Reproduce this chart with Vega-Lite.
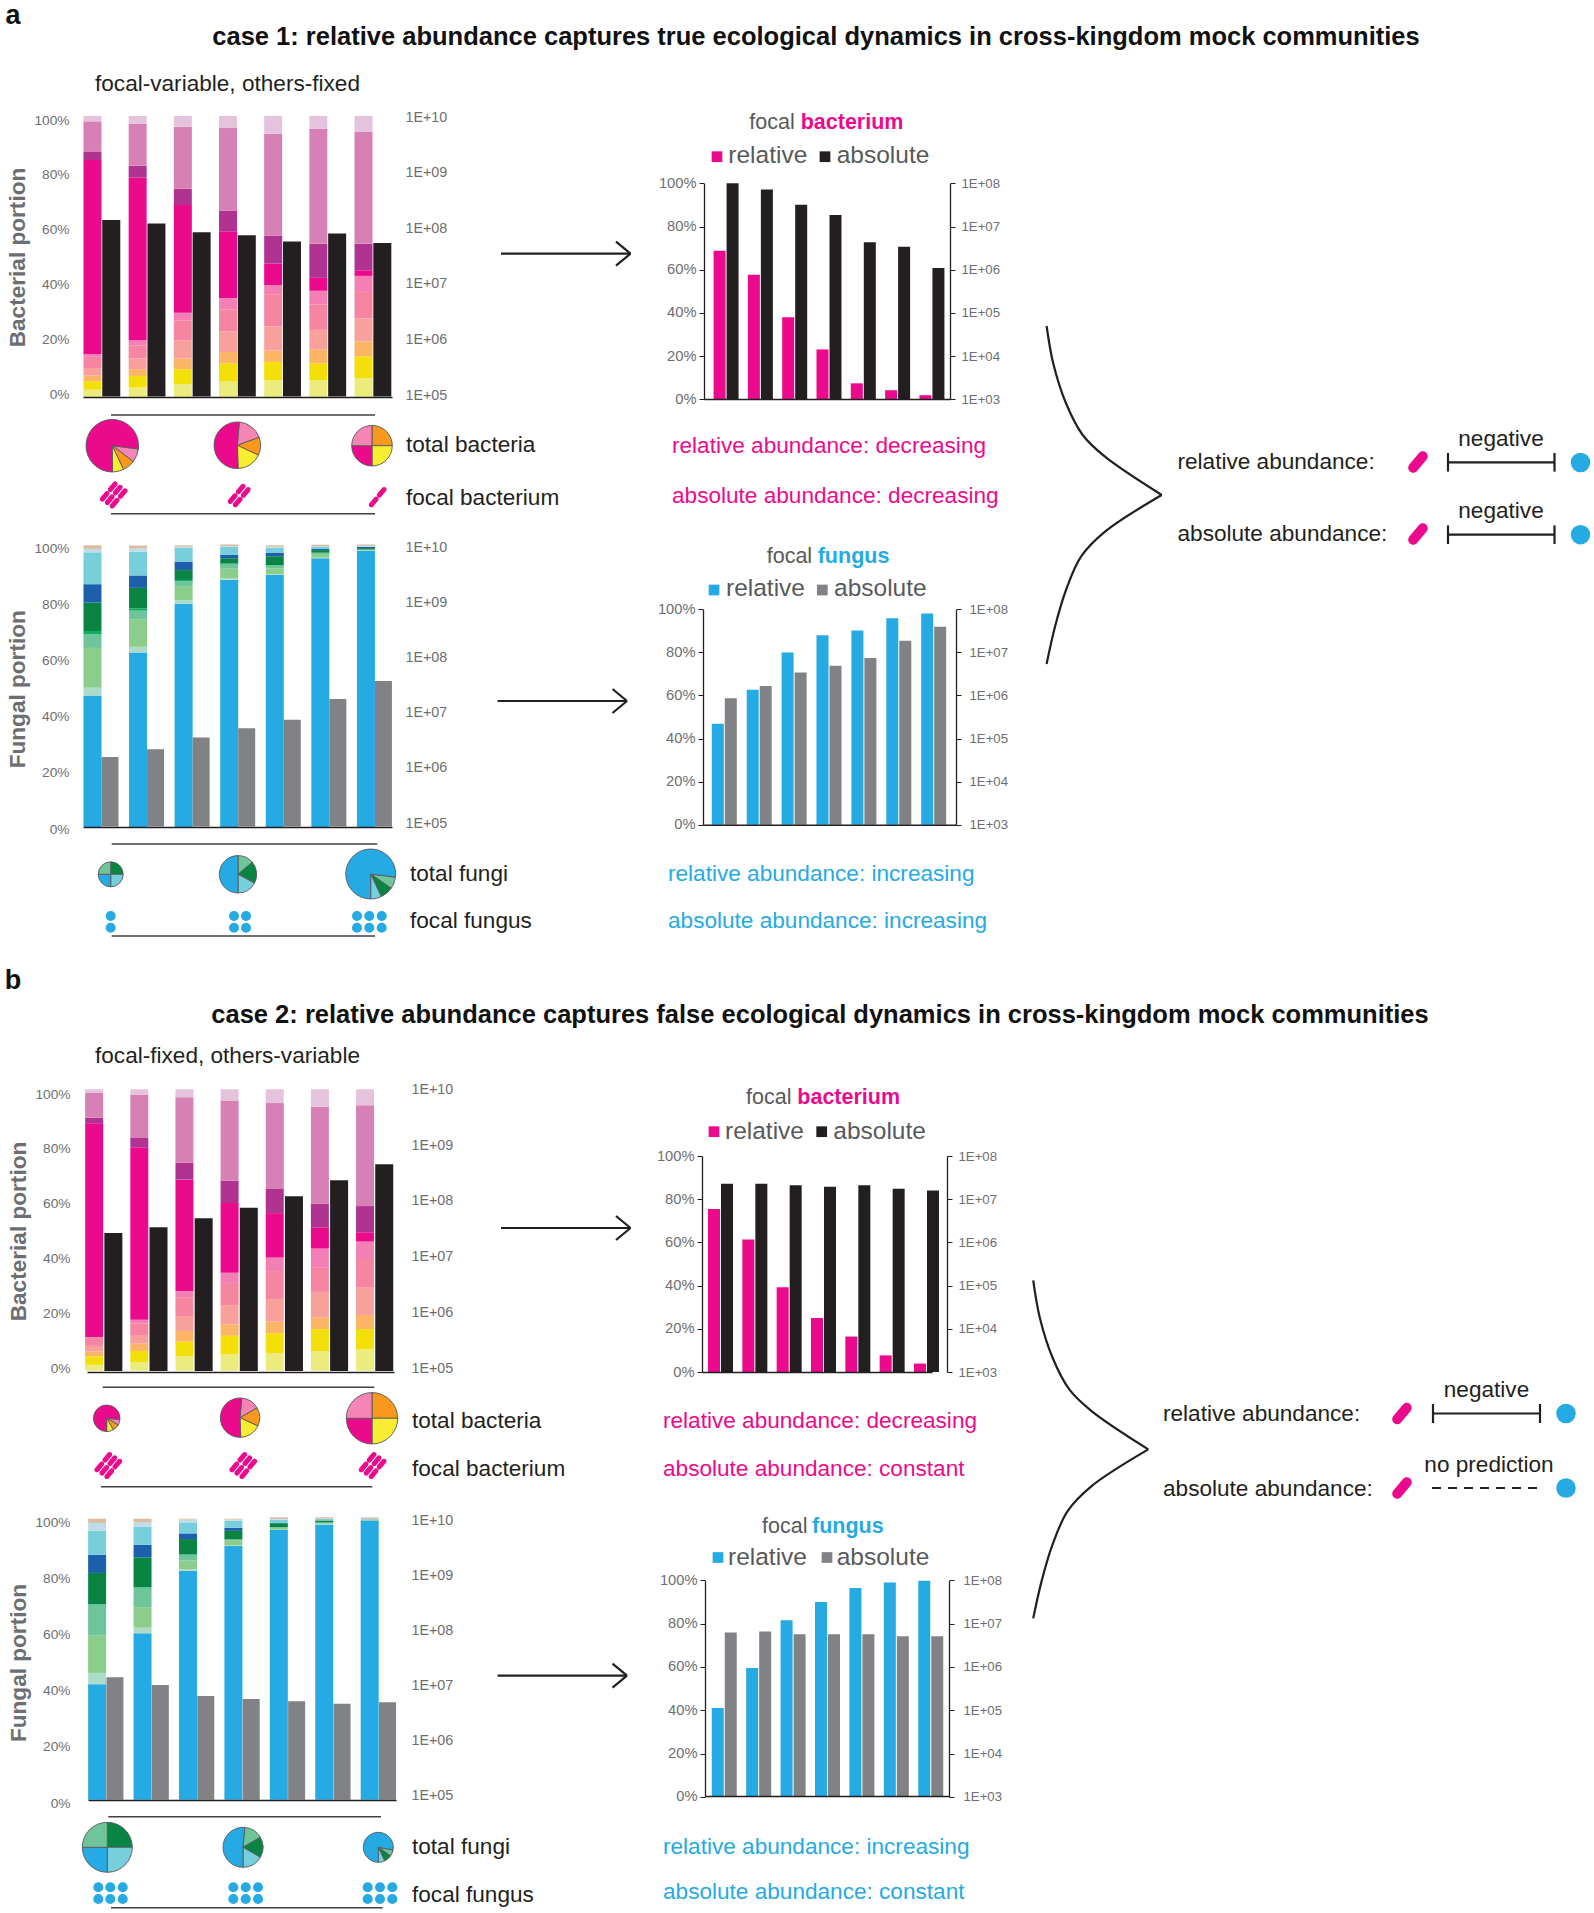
{
"$schema":"https://vega.github.io/schema/vega-lite/v6.json",
"width":1594,"height":1913,"padding":0,"autosize":{"type":"none"},"background":"white",
"config":{"font":"Liberation Sans","view":{"stroke":null},"axis":{"grid":false,"domain":false,"ticks":false,"tickSize":0,"labelFont":"Liberation Sans","titleFont":"Liberation Sans","labelColor":"#6d6e71","labelFontSize":13.7,"labelPadding":2,"title":null,"labelOverlap":false,"labelBound":false,"labelFlush":false}},
"resolve":{"scale":{"x":"independent","y":"independent","color":"independent","theta":"independent","radius":"independent"},"axis":{"x":"independent","y":"independent"},"legend":{"color":"independent"}},
"layer":[
{"data":{"values":[{"v":0},{"v":100}]},"mark":{"type":"rule","opacity":0},"encoding":{"y":{"field":"v","type":"quantitative","scale":{"domain":[0,100],"range":[394,120]},"axis":{"orient":"left","offset":-71,"values":[0,20,40,60,80,100],"labelExpr":"datum.value+'%'","title":"Bacterial portion","titleFontSize":22.6,"titleFontWeight":"bold","titleColor":"#6d6e71","titlePadding":4}}}},
{"data":{"values":[{"v":100000},{"v":10000000000}]},"mark":{"type":"rule","opacity":0},"encoding":{"y":{"field":"v","type":"quantitative","scale":{"type":"log","domain":[100000,10000000000],"range":[395,117]},"axis":{"orient":"right","offset":-1191,"values":[100000,1000000,10000000,100000000,1000000000,10000000000],"labelFontSize":14.3,"labelExpr":"'1E+'+(datum.value<10000000000?'0':'')+round(log(datum.value)/LN10)"}}}},
{"data":{"values":[{"v":0},{"v":100}]},"mark":{"type":"rule","opacity":0},"encoding":{"y":{"field":"v","type":"quantitative","scale":{"domain":[0,100],"range":[829,548.5]},"axis":{"orient":"left","offset":-71,"values":[0,20,40,60,80,100],"labelExpr":"datum.value+'%'","title":"Fungal portion","titleFontSize":22.6,"titleFontWeight":"bold","titleColor":"#6d6e71","titlePadding":4}}}},
{"data":{"values":[{"v":100000},{"v":10000000000}]},"mark":{"type":"rule","opacity":0},"encoding":{"y":{"field":"v","type":"quantitative","scale":{"type":"log","domain":[100000,10000000000],"range":[823,547.5]},"axis":{"orient":"right","offset":-1191,"values":[100000,1000000,10000000,100000000,1000000000,10000000000],"labelFontSize":14.3,"labelExpr":"'1E+'+(datum.value<10000000000?'0':'')+round(log(datum.value)/LN10)"}}}},
{"data":{"values":[{"v":0},{"v":100}]},"mark":{"type":"rule","opacity":0},"encoding":{"y":{"field":"v","type":"quantitative","scale":{"domain":[0,100],"range":[1368,1094]},"axis":{"orient":"left","offset":-72,"values":[0,20,40,60,80,100],"labelExpr":"datum.value+'%'","title":"Bacterial portion","titleFontSize":22.6,"titleFontWeight":"bold","titleColor":"#6d6e71","titlePadding":4}}}},
{"data":{"values":[{"v":100000},{"v":10000000000}]},"mark":{"type":"rule","opacity":0},"encoding":{"y":{"field":"v","type":"quantitative","scale":{"type":"log","domain":[100000,10000000000],"range":[1368,1089.5]},"axis":{"orient":"right","offset":-1185,"values":[100000,1000000,10000000,100000000,1000000000,10000000000],"labelFontSize":14.3,"labelExpr":"'1E+'+(datum.value<10000000000?'0':'')+round(log(datum.value)/LN10)"}}}},
{"data":{"values":[{"v":0},{"v":100}]},"mark":{"type":"rule","opacity":0},"encoding":{"y":{"field":"v","type":"quantitative","scale":{"domain":[0,100],"range":[1803,1522]},"axis":{"orient":"left","offset":-72,"values":[0,20,40,60,80,100],"labelExpr":"datum.value+'%'","title":"Fungal portion","titleFontSize":22.6,"titleFontWeight":"bold","titleColor":"#6d6e71","titlePadding":4}}}},
{"data":{"values":[{"v":100000},{"v":10000000000}]},"mark":{"type":"rule","opacity":0},"encoding":{"y":{"field":"v","type":"quantitative","scale":{"type":"log","domain":[100000,10000000000],"range":[1795.5,1520]},"axis":{"orient":"right","offset":-1185,"values":[100000,1000000,10000000,100000000,1000000000,10000000000],"labelFontSize":14.3,"labelExpr":"'1E+'+(datum.value<10000000000?'0':'')+round(log(datum.value)/LN10)"}}}},

{"data":{"values":[
{"sample":"S1","B01":2.6,"B02":3.0,"B03":2.0,"B04":2.7,"B05":4.0,"B06":0.9,"B07":69.1,"B08":2.9,"B09":10.9,"B10":1.9},
{"sample":"S2","B01":3.4,"B02":4.1,"B03":2.4,"B04":3.8,"B05":4.7,"B06":1.8,"B07":57.9,"B08":4.2,"B09":15.0,"B10":2.7},
{"sample":"S3","B01":4.6,"B02":5.3,"B03":3.8,"B04":6.5,"B05":7.1,"B06":2.7,"B07":38.3,"B08":5.8,"B09":22.1,"B10":3.8},
{"sample":"S4","B01":5.5,"B02":6.5,"B03":4.0,"B04":7.4,"B05":7.8,"B06":4.0,"B07":23.8,"B08":7.3,"B09":29.4,"B10":4.3},
{"sample":"S5","B01":5.9,"B02":6.6,"B03":4.0,"B04":8.6,"B05":11.5,"B06":3.2,"B07":7.7,"B08":9.9,"B09":36.3,"B10":6.3},
{"sample":"S6","B01":5.9,"B02":6.1,"B03":4.9,"B04":7.0,"B05":9.0,"B06":4.9,"B07":4.6,"B08":12.1,"B09":40.9,"B10":4.6},
{"sample":"S7","B01":6.7,"B02":7.8,"B03":5.3,"B04":8.2,"B05":9.4,"B06":5.7,"B07":2.0,"B08":9.4,"B09":40.0,"B10":5.5}]},
"transform":[{"fold":["B01","B02","B03","B04","B05","B06","B07","B08","B09","B10"],"as":["taxon","share"]}],
"mark":{"type":"bar","width":18,"xOffset":-9.5},
"encoding":{"x":{"field":"sample","type":"nominal","scale":{"range":[83,392],"paddingInner":0.16,"paddingOuter":0},"axis":{"orient":"bottom","offset":-1516,"labels":false,"domain":true,"domainColor":"#231f20","domainWidth":1.5,"zindex":1}},
"y":{"field":"share","type":"quantitative","stack":"zero","scale":{"domain":[0,100],"range":[397,116]},"axis":null},
"order":{"field":"taxon"},
"color":{"field":"taxon","type":"nominal","legend":null,"scale":{"domain":["B01","B02","B03","B04","B05","B06","B07","B08","B09","B10"],"range":["#ecec7e","#f3e00b","#fbb564","#f7a09c","#f585a0","#f47fb5","#ec0a8c","#b03392","#d680b5","#e5c3dc"]}}}},
{"data":{"values":[{"sample":"S1","cells":144000000},{"sample":"S2","cells":125000000},{"sample":"S3","cells":86500000},{"sample":"S4","cells":77000000},{"sample":"S5","cells":59000000},{"sample":"S6","cells":82000000},{"sample":"S7","cells":56000000}]},
"mark":{"type":"bar","width":18,"xOffset":9.3,"color":"#231f20"},
"encoding":{"x":{"field":"sample","type":"nominal","scale":{"range":[83,392],"paddingInner":0.16,"paddingOuter":0},"axis":null},
"y":{"field":"cells","type":"quantitative","scale":{"type":"log","domain":[100000,10000000000],"range":[396.5,117]},"axis":null},"y2":{"datum":100000}}},

{"data":{"values":[
{"sample":"S1","F01":46.6,"F02":2.8,"F03":14.1,"F04":4.8,"F05":1.2,"F06":10.1,"F07":6.5,"F08":11.3,"F09":1.2,"F10":1.3},
{"sample":"S2","F01":61.9,"F02":2.0,"F03":9.6,"F04":3.2,"F05":0.8,"F06":7.3,"F07":4.4,"F08":8.4,"F09":1.2,"F10":1.0},
{"sample":"S3","F01":79.2,"F02":1.2,"F03":4.8,"F04":2.0,"F05":0.4,"F06":3.5,"F07":3.0,"F08":5.0,"F09":0.3,"F10":0.5},
{"sample":"S4","F01":87.7,"F02":0.4,"F03":3.5,"F04":1.5,"F05":0.4,"F06":1.8,"F07":1.2,"F08":2.9,"F09":0.2,"F10":0.6},
{"sample":"S5","F01":89.4,"F02":0.2,"F03":2.1,"F04":1.0,"F05":0.2,"F06":3.1,"F07":1.3,"F08":1.8,"F09":0.3,"F10":0.5},
{"sample":"S6","F01":95.3,"F02":0.2,"F03":1.3,"F04":0.2,"F05":0.3,"F06":0.9,"F07":0.4,"F08":0.7,"F09":0.3,"F10":0.5},
{"sample":"S7","F01":97.9,"F02":0.1,"F03":0.2,"F04":0.1,"F05":0.1,"F06":0.5,"F07":0.4,"F08":0.2,"F09":0.2,"F10":0.5}]},
"transform":[{"fold":["F01","F02","F03","F04","F05","F06","F07","F08","F09","F10"],"as":["taxon","share"]}],
"mark":{"type":"bar","width":18,"xOffset":-8.3},
"encoding":{"x":{"field":"sample","type":"nominal","scale":{"range":[83,392],"paddingInner":0.22,"paddingOuter":0},"axis":{"orient":"bottom","offset":-1086,"labels":false,"domain":true,"domainColor":"#231f20","domainWidth":1.5,"zindex":1}},
"y":{"field":"share","type":"quantitative","stack":"zero","scale":{"domain":[0,100],"range":[827,545]},"axis":null},
"order":{"field":"taxon"},
"color":{"field":"taxon","type":"nominal","legend":null,"scale":{"domain":["F01","F02","F03","F04","F05","F06","F07","F08","F09","F10"],"range":["#25aae3","#acdcc8","#8bcd8b","#6ec59a","#0db060","#0a8443","#1b5fad","#77cfdc","#c0dce6","#dcbba1"]}}}},
{"data":{"values":[{"sample":"S1","cells":1750000},{"sample":"S2","cells":2400000},{"sample":"S3","cells":3900000},{"sample":"S4","cells":5700000},{"sample":"S5","cells":8100000},{"sample":"S6","cells":19000000},{"sample":"S7","cells":40000000}]},
"mark":{"type":"bar","width":17,"xOffset":9.2,"color":"#808285"},
"encoding":{"x":{"field":"sample","type":"nominal","scale":{"range":[83,392],"paddingInner":0.22,"paddingOuter":0},"axis":null},
"y":{"field":"cells","type":"quantitative","scale":{"type":"log","domain":[100000,10000000000],"range":[826.5,547]},"axis":null},"y2":{"datum":100000}}},

{"data":{"values":[
{"sample":"S1","B01":2.1,"B02":3.0,"B03":1.7,"B04":2.0,"B05":2.9,"B06":0.3,"B07":75.9,"B08":2.0,"B09":8.8,"B10":1.3},
{"sample":"S2","B01":3.1,"B02":3.9,"B03":2.6,"B04":2.8,"B05":4.4,"B06":1.3,"B07":61.3,"B08":3.5,"B09":15.1,"B10":2.0},
{"sample":"S3","B01":5.1,"B02":5.2,"B03":3.8,"B04":5.3,"B05":6.7,"B06":2.2,"B07":39.6,"B08":6.0,"B09":23.3,"B10":2.8},
{"sample":"S4","B01":5.9,"B02":6.5,"B03":4.1,"B04":6.8,"B05":7.9,"B06":3.6,"B07":24.8,"B08":7.9,"B09":28.5,"B10":4.0},
{"sample":"S5","B01":6.3,"B02":7.0,"B03":4.1,"B04":8.1,"B05":9.9,"B06":4.8,"B07":15.8,"B08":8.6,"B09":30.5,"B10":4.9},
{"sample":"S6","B01":7.0,"B02":7.8,"B03":4.2,"B04":9.0,"B05":8.8,"B06":6.6,"B07":7.4,"B08":8.6,"B09":34.4,"B10":6.2},
{"sample":"S7","B01":7.6,"B02":7.2,"B03":5.0,"B04":9.7,"B05":10.2,"B06":6.2,"B07":3.3,"B08":9.3,"B09":35.8,"B10":5.7}]},
"transform":[{"fold":["B01","B02","B03","B04","B05","B06","B07","B08","B09","B10"],"as":["taxon","share"]}],
"mark":{"type":"bar","width":18,"xOffset":-10.9},
"encoding":{"x":{"field":"sample","type":"nominal","scale":{"range":[87,394],"paddingInner":0.2,"paddingOuter":0},"axis":{"orient":"bottom","offset":-541,"labels":false,"domain":true,"domainColor":"#231f20","domainWidth":1.5,"zindex":1}},
"y":{"field":"share","type":"quantitative","stack":"zero","scale":{"domain":[0,100],"range":[1370.7,1089.3]},"axis":null},
"order":{"field":"taxon"},
"color":{"field":"taxon","type":"nominal","legend":null,"scale":{"domain":["B01","B02","B03","B04","B05","B06","B07","B08","B09","B10"],"range":["#ecec7e","#f3e00b","#fbb564","#f7a09c","#f585a0","#f47fb5","#ec0a8c","#b03392","#d680b5","#e5c3dc"]}}}},
{"data":{"values":[{"sample":"S1","cells":28600000},{"sample":"S2","cells":36000000},{"sample":"S3","cells":52000000},{"sample":"S4","cells":80500000},{"sample":"S5","cells":128000000},{"sample":"S6","cells":247000000},{"sample":"S7","cells":476000000}]},
"mark":{"type":"bar","width":18,"xOffset":8.3,"color":"#231f20"},
"encoding":{"x":{"field":"sample","type":"nominal","scale":{"range":[87,394],"paddingInner":0.2,"paddingOuter":0},"axis":null},
"y":{"field":"cells","type":"quantitative","scale":{"type":"log","domain":[100000,10000000000],"range":[1371,1090]},"axis":null},"y2":{"datum":100000}}},

{"data":{"values":[
{"sample":"S1","F01":40.9,"F02":4.0,"F03":13.2,"F04":11.0,"F05":0.2,"F06":11.0,"F07":6.4,"F08":8.5,"F09":2.8,"F10":1.5},
{"sample":"S2","F01":58.9,"F02":2.0,"F03":7.3,"F04":6.9,"F05":0.2,"F06":10.5,"F07":4.5,"F08":6.4,"F09":1.6,"F10":1.2},
{"sample":"S3","F01":81.1,"F02":0.4,"F03":3.2,"F04":2.0,"F05":0.2,"F06":5.4,"F07":2.0,"F08":3.9,"F09":1.0,"F10":0.3},
{"sample":"S4","F01":89.8,"F02":0.2,"F03":1.9,"F04":0.2,"F05":0.1,"F06":3.0,"F07":1.1,"F08":2.5,"F09":0.4,"F10":0.3},
{"sample":"S5","F01":95.5,"F02":0.1,"F03":0.7,"F04":0.1,"F05":0.1,"F06":1.4,"F07":0.1,"F08":1.2,"F09":0.2,"F10":0.6},
{"sample":"S6","F01":97.4,"F02":0.1,"F03":0.4,"F04":0.2,"F05":0.1,"F06":0.6,"F07":0.1,"F08":0.5,"F09":0.1,"F10":0.5},
{"sample":"S7","F01":98.8,"F02":0,"F03":0,"F04":0.4,"F05":0,"F06":0,"F07":0,"F08":0.2,"F09":0,"F10":0.5}]},
"transform":[{"fold":["F01","F02","F03","F04","F05","F06","F07","F08","F09","F10"],"as":["taxon","share"]}],
"mark":{"type":"bar","width":18,"xOffset":-8.6},
"encoding":{"x":{"field":"sample","type":"nominal","scale":{"range":[88,396],"paddingInner":0.22,"paddingOuter":0},"axis":{"orient":"bottom","offset":-113,"labels":false,"domain":true,"domainColor":"#231f20","domainWidth":1.5,"zindex":1}},
"y":{"field":"share","type":"quantitative","stack":"zero","scale":{"domain":[0,100],"range":[1799.7,1517.3]},"axis":null},
"order":{"field":"taxon"},
"color":{"field":"taxon","type":"nominal","legend":null,"scale":{"domain":["F01","F02","F03","F04","F05","F06","F07","F08","F09","F10"],"range":["#25aae3","#acdcc8","#8bcd8b","#6ec59a","#0db060","#0a8443","#1b5fad","#77cfdc","#c0dce6","#dcbba1"]}}}},
{"data":{"values":[{"sample":"S1","cells":15200000},{"sample":"S2","cells":11100000},{"sample":"S3","cells":7050000},{"sample":"S4","cells":6200000},{"sample":"S5","cells":5700000},{"sample":"S6","cells":5100000},{"sample":"S7","cells":5450000}]},
"mark":{"type":"bar","width":17,"xOffset":9.2,"color":"#808285"},
"encoding":{"x":{"field":"sample","type":"nominal","scale":{"range":[88,396],"paddingInner":0.22,"paddingOuter":0},"axis":null},
"y":{"field":"cells","type":"quantitative","scale":{"type":"log","domain":[100000,10000000000],"range":[1799.7,1519]},"axis":null},"y2":{"datum":100000}}},

{"data":{"values":[{"sample":"S1","pct":68.8},{"sample":"S2","pct":57.7},{"sample":"S3","pct":38},{"sample":"S4","pct":23.1},{"sample":"S5","pct":7.4},{"sample":"S6","pct":4.2},{"sample":"S7","pct":1.9}]},
"mark":{"type":"bar","width":12,"xOffset":-4.5,"color":"#ec0a8c"},
"encoding":{"x":{"field":"sample","type":"nominal","scale":{"range":[704,950],"paddingInner":0,"paddingOuter":0.085},"axis":{"orient":"bottom","offset":-1514,"labels":false,"domain":true,"domainColor":"#231f20","domainWidth":1.5,"zindex":1}},
"y":{"field":"pct","type":"quantitative","scale":{"domain":[0,100],"range":[399.3,183.3]},"axis":{"orient":"left","offset":-704,"values":[0,20,40,60,80,100],"labelExpr":"datum.value+'%'","labelFontSize":14.7,"domain":true,"ticks":true,"tickSize":5,"domainColor":"#231f20","tickColor":"#231f20","domainWidth":1.3,"labelPadding":3}}}},
{"data":{"values":[{"sample":"S1","cells":100000000},{"sample":"S2","cells":72000000},{"sample":"S3","cells":32000000},{"sample":"S4","cells":18500000},{"sample":"S5","cells":4300000},{"sample":"S6","cells":3400000},{"sample":"S7","cells":1100000}]},
"mark":{"type":"bar","width":12,"xOffset":8.5,"color":"#231f20"},
"encoding":{"x":{"field":"sample","type":"nominal","scale":{"range":[704,950],"paddingInner":0,"paddingOuter":0.085},"axis":null},
"y":{"field":"cells","type":"quantitative","scale":{"type":"log","domain":[1000,100000000],"range":[399.3,183.3]},"axis":{"orient":"right","offset":-644,"values":[1000,10000,100000,1000000,10000000,100000000],"labelExpr":"'1E+0'+round(log(datum.value)/LN10)","labelFontSize":13.2,"domain":true,"ticks":true,"tickSize":5,"domainColor":"#231f20","tickColor":"#231f20","domainWidth":1.3,"labelPadding":6}},"y2":{"datum":1000}}},

{"data":{"values":[{"sample":"S1","pct":46.9},{"sample":"S2","pct":62.7},{"sample":"S3","pct":80},{"sample":"S4","pct":87.9},{"sample":"S5","pct":90.2},{"sample":"S6","pct":95.8},{"sample":"S7","pct":98.1}]},
"mark":{"type":"bar","width":12,"xOffset":-7,"color":"#25aae3"},
"encoding":{"x":{"field":"sample","type":"nominal","scale":{"range":[703,956],"paddingInner":0,"paddingOuter":0.125},"axis":{"orient":"bottom","offset":-1088.3,"labels":false,"domain":true,"domainColor":"#231f20","domainWidth":1.5,"zindex":1}},
"y":{"field":"pct","type":"quantitative","scale":{"domain":[0,100],"range":[824.7,609.3]},"axis":{"orient":"left","offset":-703,"values":[0,20,40,60,80,100],"labelExpr":"datum.value+'%'","labelFontSize":14.7,"domain":true,"ticks":true,"tickSize":5,"domainColor":"#231f20","tickColor":"#231f20","domainWidth":1.3,"labelPadding":3}}}},
{"data":{"values":[{"sample":"S1","cells":860000},{"sample":"S2","cells":1660000},{"sample":"S3","cells":3400000},{"sample":"S4","cells":4900000},{"sample":"S5","cells":7400000},{"sample":"S6","cells":18700000},{"sample":"S7","cells":39600000}]},
"mark":{"type":"bar","width":12,"xOffset":6,"color":"#808285"},
"encoding":{"x":{"field":"sample","type":"nominal","scale":{"range":[703,956],"paddingInner":0,"paddingOuter":0.125},"axis":null},
"y":{"field":"cells","type":"quantitative","scale":{"type":"log","domain":[1000,100000000],"range":[824.7,609.3]},"axis":{"orient":"right","offset":-638,"values":[1000,10000,100000,1000000,10000000,100000000],"labelExpr":"'1E+0'+round(log(datum.value)/LN10)","labelFontSize":13.2,"domain":true,"ticks":true,"tickSize":5,"domainColor":"#231f20","tickColor":"#231f20","domainWidth":1.3,"labelPadding":8}},"y2":{"datum":1000}}},

{"data":{"values":[{"sample":"S1","pct":75.5},{"sample":"S2","pct":61.3},{"sample":"S3","pct":39.2},{"sample":"S4","pct":25},{"sample":"S5","pct":16.4},{"sample":"S6","pct":7.7},{"sample":"S7","pct":3.9}]},
"mark":{"type":"bar","width":12,"xOffset":0,"color":"#ec0a8c"},
"encoding":{"x":{"field":"sample","type":"nominal","scale":{"range":[702,932],"paddingInner":0.3,"paddingOuter":0},"axis":{"orient":"bottom","offset":-541,"labels":false,"domain":true,"domainColor":"#231f20","domainWidth":1.5,"zindex":1}},
"y":{"field":"pct","type":"quantitative","scale":{"domain":[0,100],"range":[1372,1156]},"axis":{"orient":"left","offset":-702,"values":[0,20,40,60,80,100],"labelExpr":"datum.value+'%'","labelFontSize":14.7,"domain":true,"ticks":true,"tickSize":5,"domainColor":"#231f20","tickColor":"#231f20","domainWidth":1.3,"labelPadding":3}}}},
{"data":{"values":[{"sample":"S1","cells":22900000},{"sample":"S2","cells":22900000},{"sample":"S3","cells":20900000},{"sample":"S4","cells":19500000},{"sample":"S5","cells":20900000},{"sample":"S6","cells":17500000},{"sample":"S7","cells":16000000}]},
"mark":{"type":"bar","width":12,"xOffset":13,"color":"#231f20"},
"encoding":{"x":{"field":"sample","type":"nominal","scale":{"range":[702,932],"paddingInner":0.3,"paddingOuter":0},"axis":null},
"y":{"field":"cells","type":"quantitative","scale":{"type":"log","domain":[1000,100000000],"range":[1372,1156]},"axis":{"orient":"right","offset":-647,"values":[1000,10000,100000,1000000,10000000,100000000],"labelExpr":"'1E+0'+round(log(datum.value)/LN10)","labelFontSize":13.2,"domain":true,"ticks":true,"tickSize":5,"domainColor":"#231f20","tickColor":"#231f20","domainWidth":1.3,"labelPadding":6}},"y2":{"datum":1000}}},

{"data":{"values":[{"sample":"S1","pct":41},{"sample":"S2","pct":59.5},{"sample":"S3","pct":81.5},{"sample":"S4","pct":90},{"sample":"S5","pct":96.5},{"sample":"S6","pct":99},{"sample":"S7","pct":99.8}]},
"mark":{"type":"bar","width":12,"xOffset":-6,"color":"#25aae3"},
"encoding":{"x":{"field":"sample","type":"nominal","scale":{"range":[705,949],"paddingInner":0,"paddingOuter":0.045},"axis":{"orient":"bottom","offset":-117,"labels":false,"domain":true,"domainColor":"#231f20","domainWidth":1.5,"zindex":1}},
"y":{"field":"pct","type":"quantitative","scale":{"domain":[0,100],"range":[1796.8,1580.3]},"axis":{"orient":"left","offset":-705,"values":[0,20,40,60,80,100],"labelExpr":"datum.value+'%'","labelFontSize":14.7,"domain":true,"ticks":true,"tickSize":5,"domainColor":"#231f20","tickColor":"#231f20","domainWidth":1.3,"labelPadding":3}}}},
{"data":{"values":[{"sample":"S1","cells":6200000},{"sample":"S2","cells":6600000},{"sample":"S3","cells":5700000},{"sample":"S4","cells":5700000},{"sample":"S5","cells":5700000},{"sample":"S6","cells":5100000},{"sample":"S7","cells":5100000}]},
"mark":{"type":"bar","width":12,"xOffset":7,"color":"#808285"},
"encoding":{"x":{"field":"sample","type":"nominal","scale":{"range":[705,949],"paddingInner":0,"paddingOuter":0.045},"axis":null},
"y":{"field":"cells","type":"quantitative","scale":{"type":"log","domain":[1000,100000000],"range":[1796.8,1580.3]},"axis":{"orient":"right","offset":-645,"values":[1000,10000,100000,1000000,10000000,100000000],"labelExpr":"'1E+0'+round(log(datum.value)/LN10)","labelFontSize":13.2,"domain":true,"ticks":true,"tickSize":5,"domainColor":"#231f20","tickColor":"#231f20","domainWidth":1.3,"labelPadding":9}},"y2":{"datum":1000}}},

{"data":{"values":[
{"pie":"a1","u":112.3,"v":445.7,"r":26.3,"a0":97,"a1":127,"taxon":"rose"},{"pie":"a1","u":112.3,"v":445.7,"r":26.3,"a0":127,"a1":155,"taxon":"orange"},{"pie":"a1","u":112.3,"v":445.7,"r":26.3,"a0":155,"a1":180,"taxon":"yellow"},{"pie":"a1","u":112.3,"v":445.7,"r":26.3,"a0":180,"a1":457,"taxon":"pink"},
{"pie":"a2","u":237.3,"v":445.3,"r":23.3,"a0":5,"a1":70,"taxon":"rose"},{"pie":"a2","u":237.3,"v":445.3,"r":23.3,"a0":70,"a1":115,"taxon":"orange"},{"pie":"a2","u":237.3,"v":445.3,"r":23.3,"a0":115,"a1":178,"taxon":"yellow"},{"pie":"a2","u":237.3,"v":445.3,"r":23.3,"a0":178,"a1":365,"taxon":"pink"},
{"pie":"a3","u":372,"v":445.7,"r":20.3,"a0":0,"a1":90,"taxon":"orange"},{"pie":"a3","u":372,"v":445.7,"r":20.3,"a0":90,"a1":180,"taxon":"yellow"},{"pie":"a3","u":372,"v":445.7,"r":20.3,"a0":180,"a1":270,"taxon":"pink"},{"pie":"a3","u":372,"v":445.7,"r":20.3,"a0":270,"a1":360,"taxon":"rose"},
{"pie":"a4","u":110.7,"v":874.3,"r":12.5,"a0":0,"a1":90,"taxon":"green"},{"pie":"a4","u":110.7,"v":874.3,"r":12.5,"a0":90,"a1":180,"taxon":"cyan"},{"pie":"a4","u":110.7,"v":874.3,"r":12.5,"a0":180,"a1":270,"taxon":"blue"},{"pie":"a4","u":110.7,"v":874.3,"r":12.5,"a0":270,"a1":360,"taxon":"teal"},
{"pie":"a5","u":238,"v":874.3,"r":18.7,"a0":0,"a1":50,"taxon":"teal"},{"pie":"a5","u":238,"v":874.3,"r":18.7,"a0":50,"a1":118,"taxon":"green"},{"pie":"a5","u":238,"v":874.3,"r":18.7,"a0":118,"a1":180,"taxon":"cyan"},{"pie":"a5","u":238,"v":874.3,"r":18.7,"a0":180,"a1":360,"taxon":"blue"},
{"pie":"a6","u":370.7,"v":874,"r":25,"a0":97,"a1":125,"taxon":"teal"},{"pie":"a6","u":370.7,"v":874,"r":25,"a0":125,"a1":155,"taxon":"green"},{"pie":"a6","u":370.7,"v":874,"r":25,"a0":155,"a1":180,"taxon":"cyan"},{"pie":"a6","u":370.7,"v":874,"r":25,"a0":180,"a1":457,"taxon":"blue"},
{"pie":"b1","u":106.7,"v":1418.3,"r":13.3,"a0":95,"a1":120,"taxon":"rose"},{"pie":"b1","u":106.7,"v":1418.3,"r":13.3,"a0":120,"a1":150,"taxon":"orange"},{"pie":"b1","u":106.7,"v":1418.3,"r":13.3,"a0":150,"a1":180,"taxon":"yellow"},{"pie":"b1","u":106.7,"v":1418.3,"r":13.3,"a0":180,"a1":455,"taxon":"pink"},
{"pie":"b2","u":240,"v":1417.7,"r":19.7,"a0":5,"a1":60,"taxon":"rose"},{"pie":"b2","u":240,"v":1417.7,"r":19.7,"a0":60,"a1":115,"taxon":"orange"},{"pie":"b2","u":240,"v":1417.7,"r":19.7,"a0":115,"a1":178,"taxon":"yellow"},{"pie":"b2","u":240,"v":1417.7,"r":19.7,"a0":178,"a1":365,"taxon":"pink"},
{"pie":"b3","u":372,"v":1418.3,"r":25.7,"a0":0,"a1":90,"taxon":"orange"},{"pie":"b3","u":372,"v":1418.3,"r":25.7,"a0":90,"a1":180,"taxon":"yellow"},{"pie":"b3","u":372,"v":1418.3,"r":25.7,"a0":180,"a1":270,"taxon":"pink"},{"pie":"b3","u":372,"v":1418.3,"r":25.7,"a0":270,"a1":360,"taxon":"rose"},
{"pie":"b4","u":107.3,"v":1847.3,"r":25,"a0":0,"a1":90,"taxon":"green"},{"pie":"b4","u":107.3,"v":1847.3,"r":25,"a0":90,"a1":180,"taxon":"cyan"},{"pie":"b4","u":107.3,"v":1847.3,"r":25,"a0":180,"a1":270,"taxon":"blue"},{"pie":"b4","u":107.3,"v":1847.3,"r":25,"a0":270,"a1":360,"taxon":"teal"},
{"pie":"b5","u":243,"v":1847.3,"r":20,"a0":5,"a1":60,"taxon":"teal"},{"pie":"b5","u":243,"v":1847.3,"r":20,"a0":60,"a1":120,"taxon":"green"},{"pie":"b5","u":243,"v":1847.3,"r":20,"a0":120,"a1":180,"taxon":"cyan"},{"pie":"b5","u":243,"v":1847.3,"r":20,"a0":180,"a1":365,"taxon":"blue"},
{"pie":"b6","u":378.3,"v":1847.3,"r":15,"a0":100,"a1":125,"taxon":"teal"},{"pie":"b6","u":378.3,"v":1847.3,"r":15,"a0":125,"a1":155,"taxon":"green"},{"pie":"b6","u":378.3,"v":1847.3,"r":15,"a0":155,"a1":180,"taxon":"cyan"},{"pie":"b6","u":378.3,"v":1847.3,"r":15,"a0":180,"a1":460,"taxon":"blue"}]},
"mark":{"type":"arc","stroke":"#58595b","strokeWidth":0.9},
"encoding":{"x":{"field":"u","type":"quantitative","scale":{"domain":[0,1594],"range":[0,1594]},"axis":null},"y":{"field":"v","type":"quantitative","scale":{"domain":[0,1913],"range":[0,1913]},"axis":null},
"theta":{"field":"a0","type":"quantitative","stack":null,"scale":{"domain":[0,360],"range":[0,6.28319]}},"theta2":{"field":"a1"},
"radius":{"field":"r","type":"quantitative","scale":{"type":"linear","domain":[0,30],"range":[0,30]}},
"color":{"field":"taxon","type":"nominal","legend":null,"scale":{"domain":["pink","rose","orange","yellow","blue","teal","green","cyan"],"range":["#ec0a8c","#f585b5","#f8981d","#f9ed32","#25aae3","#6ec59a","#0a8443","#77cfdc"]}}}},

{"data":{"values":[
{"u":112.7,"v":486.7},{"u":117.7,"v":490.1},{"u":122.7,"v":493.5},{"u":104.7,"v":496.3},{"u":109.7,"v":499.7},{"u":114.7,"v":503.1},
{"u":240.7,"v":489},{"u":245.7,"v":492.4},{"u":232.7,"v":498.6},{"u":237.7,"v":502},{"u":381.7,"v":492.3},{"u":373.7,"v":501.9},
{"u":107.3,"v":1457.3},{"u":112.3,"v":1460.7},{"u":117.3,"v":1464.1},{"u":99.3,"v":1466.9},{"u":104.3,"v":1470.3},{"u":109.3,"v":1473.7},
{"u":242.3,"v":1457.3},{"u":247.3,"v":1460.7},{"u":252.3,"v":1464.1},{"u":234.3,"v":1466.9},{"u":239.3,"v":1470.3},{"u":244.3,"v":1473.7},
{"u":371.6,"v":1457.3},{"u":376.6,"v":1460.7},{"u":381.6,"v":1464.1},{"u":363.6,"v":1466.9},{"u":368.6,"v":1470.3},{"u":373.6,"v":1473.7}]},
"mark":{"type":"point","shape":"M-0.6,-0.4L0.6,-0.4A0.4,0.4,0,0,1,0.6,0.4L-0.6,0.4A0.4,0.4,0,0,1,-0.6,-0.4Z","filled":true,"opacity":1,"color":"#ec0a8c","size":156,"angle":310},
"encoding":{"x":{"field":"u","type":"quantitative","scale":{"domain":[0,1594],"range":[0,1594]},"axis":null},"y":{"field":"v","type":"quantitative","scale":{"domain":[0,1913],"range":[0,1913]},"axis":null}}},
{"data":{"values":[{"u":1418,"v":462},{"u":1418,"v":534},{"u":1402,"v":1413.5},{"u":1402,"v":1488}]},
"mark":{"type":"point","shape":"M-0.6,-0.4L0.6,-0.4A0.4,0.4,0,0,1,0.6,0.4L-0.6,0.4A0.4,0.4,0,0,1,-0.6,-0.4Z","filled":true,"opacity":1,"color":"#ec0a8c","size":625,"angle":310},
"encoding":{"x":{"field":"u","type":"quantitative","scale":{"domain":[0,1594],"range":[0,1594]},"axis":null},"y":{"field":"v","type":"quantitative","scale":{"domain":[0,1913],"range":[0,1913]},"axis":null}}},
{"data":{"values":[
{"u":110.7,"v":916},{"u":110.7,"v":927.7},{"u":234,"v":916},{"u":246,"v":916},{"u":234,"v":927.7},{"u":246,"v":927.7},
{"u":357,"v":916},{"u":369.3,"v":916},{"u":381.7,"v":916},{"u":357,"v":927.7},{"u":369.3,"v":927.7},{"u":381.7,"v":927.7},
{"u":98.3,"v":1887.3},{"u":110.3,"v":1887.3},{"u":122.7,"v":1887.3},{"u":98.3,"v":1899},{"u":110.3,"v":1899},{"u":122.7,"v":1899},
{"u":233.3,"v":1887.3},{"u":245.7,"v":1887.3},{"u":258,"v":1887.3},{"u":233.3,"v":1899},{"u":245.7,"v":1899},{"u":258,"v":1899},
{"u":367.7,"v":1887.3},{"u":380,"v":1887.3},{"u":392.3,"v":1887.3},{"u":367.7,"v":1899},{"u":380,"v":1899},{"u":392.3,"v":1899}]},
"mark":{"type":"circle","color":"#25aae3","opacity":1,"size":102},
"encoding":{"x":{"field":"u","type":"quantitative","scale":{"domain":[0,1594],"range":[0,1594]},"axis":null},"y":{"field":"v","type":"quantitative","scale":{"domain":[0,1913],"range":[0,1913]},"axis":null}}},
{"data":{"values":[{"u":1580.5,"v":462.5},{"u":1580.5,"v":534.7},{"u":1566,"v":1413.5},{"u":1566,"v":1488}]},
"mark":{"type":"circle","color":"#25aae3","opacity":1,"size":380},
"encoding":{"x":{"field":"u","type":"quantitative","scale":{"domain":[0,1594],"range":[0,1594]},"axis":null},"y":{"field":"v","type":"quantitative","scale":{"domain":[0,1913],"range":[0,1913]},"axis":null}}},
{"data":{"values":[{"u":717,"v":156.7,"kind":"bp"},{"u":825,"v":156.7,"kind":"bk"},{"u":714,"v":590,"kind":"fb"},{"u":822.3,"v":590,"kind":"fg"},{"u":714,"v":1131.7,"kind":"bp"},{"u":821.7,"v":1131.7,"kind":"bk"},{"u":718,"v":1557.5,"kind":"fb"},{"u":827,"v":1557.5,"kind":"fg"}]},
"mark":{"type":"square","opacity":1,"size":115},
"encoding":{"x":{"field":"u","type":"quantitative","scale":{"domain":[0,1594],"range":[0,1594]},"axis":null},"y":{"field":"v","type":"quantitative","scale":{"domain":[0,1913],"range":[0,1913]},"axis":null},
"color":{"field":"kind","type":"nominal","legend":null,"scale":{"domain":["bp","bk","fb","fg"],"range":["#ec0a8c","#231f20","#25aae3","#808285"]}}}},

{"data":{"values":[
{"u":111,"v":415,"u2":375,"v2":415},{"u":111,"v":513.7,"u2":375,"v2":513.7},{"u":111.7,"v":844,"u2":377.3,"v2":844},{"u":111.7,"v":936,"u2":375,"v2":936},
{"u":102.7,"v":1387.3,"u2":374.3,"v2":1387.3},{"u":101,"v":1486.7,"u2":372.3,"v2":1486.7},{"u":108.3,"v":1816.7,"u2":381,"v2":1816.7},{"u":111,"v":1907.7,"u2":382.7,"v2":1907.7}]},
"mark":{"type":"rule","color":"#414042","strokeWidth":1.4},
"encoding":{"x":{"field":"u","type":"quantitative","scale":{"domain":[0,1594],"range":[0,1594]},"axis":null},"y":{"field":"v","type":"quantitative","scale":{"domain":[0,1913],"range":[0,1913]},"axis":null},"x2":{"field":"u2"},"y2":{"field":"v2"}}},
{"data":{"values":[
{"u":501,"v":253.7,"u2":630.5,"v2":253.7},{"u":616,"v":241.7,"u2":630.5,"v2":253.7},{"u":616,"v":265.7,"u2":630.5,"v2":253.7},
{"u":497.6,"v":701,"u2":627,"v2":701},{"u":612.5,"v":689,"u2":627,"v2":701},{"u":612.5,"v":713,"u2":627,"v2":701},
{"u":501,"v":1228,"u2":630.5,"v2":1228},{"u":616,"v":1216,"u2":630.5,"v2":1228},{"u":616,"v":1240,"u2":630.5,"v2":1228},
{"u":497.6,"v":1675.7,"u2":627,"v2":1675.7},{"u":612.5,"v":1663.7,"u2":627,"v2":1675.7},{"u":612.5,"v":1687.7,"u2":627,"v2":1675.7},
{"u":1448,"v":462.3,"u2":1554.5,"v2":462.3},{"u":1448,"v":453,"u2":1448,"v2":471.6},{"u":1554.5,"v":453,"u2":1554.5,"v2":471.6},
{"u":1448,"v":534.7,"u2":1554.5,"v2":534.7},{"u":1448,"v":525.4,"u2":1448,"v2":544},{"u":1554.5,"v":525.4,"u2":1554.5,"v2":544},
{"u":1433,"v":1413.5,"u2":1540,"v2":1413.5},{"u":1433,"v":1404,"u2":1433,"v2":1423},{"u":1540,"v":1404,"u2":1540,"v2":1423}]},
"mark":{"type":"rule","color":"#231f20","strokeWidth":2.2},
"encoding":{"x":{"field":"u","type":"quantitative","scale":{"domain":[0,1594],"range":[0,1594]},"axis":null},"y":{"field":"v","type":"quantitative","scale":{"domain":[0,1913],"range":[0,1913]},"axis":null},"x2":{"field":"u2"},"y2":{"field":"v2"}}},
{"data":{"values":[{"u":1432,"v":1488,"u2":1543,"v2":1488}]},
"mark":{"type":"rule","color":"#231f20","strokeWidth":2,"strokeDash":[9,7]},
"encoding":{"x":{"field":"u","type":"quantitative","scale":{"domain":[0,1594],"range":[0,1594]},"axis":null},"y":{"field":"v","type":"quantitative","scale":{"domain":[0,1913],"range":[0,1913]},"axis":null},"x2":{"field":"u2"},"y2":{"field":"v2"}}},
{"data":{"values":[
{"id":"a1","ord":1,"u":1046.6,"v":326},{"id":"a1","ord":2,"u":1053.2,"v":363.3},{"id":"a1","ord":3,"u":1066,"v":403.3},{"id":"a1","ord":4,"u":1082.7,"v":435},{"id":"a1","ord":5,"u":1105,"v":456.7},{"id":"a1","ord":6,"u":1161.7,"v":495},
{"id":"a2","ord":1,"u":1161.7,"v":495},{"id":"a2","ord":2,"u":1105,"v":531.7},{"id":"a2","ord":3,"u":1081,"v":556.7},{"id":"a2","ord":4,"u":1066,"v":590},{"id":"a2","ord":5,"u":1055,"v":626.7},{"id":"a2","ord":6,"u":1046.6,"v":664},
{"id":"b1","ord":1,"u":1033.2,"v":1280.4},{"id":"b1","ord":2,"u":1039.8,"v":1317.7},{"id":"b1","ord":3,"u":1052.6,"v":1357.7},{"id":"b1","ord":4,"u":1069.3,"v":1389.4},{"id":"b1","ord":5,"u":1091.6,"v":1411.1},{"id":"b1","ord":6,"u":1148.3,"v":1449.4},
{"id":"b2","ord":1,"u":1148.3,"v":1449.4},{"id":"b2","ord":2,"u":1091.6,"v":1486.1},{"id":"b2","ord":3,"u":1067.6,"v":1511.1},{"id":"b2","ord":4,"u":1052.6,"v":1544.4},{"id":"b2","ord":5,"u":1041.6,"v":1581.1},{"id":"b2","ord":6,"u":1033.2,"v":1618.4}]},
"mark":{"type":"line","color":"#231f20","strokeWidth":2.2,"interpolate":"catmull-rom"},
"encoding":{"x":{"field":"u","type":"quantitative","scale":{"domain":[0,1594],"range":[0,1594]},"axis":null},"y":{"field":"v","type":"quantitative","scale":{"domain":[0,1913],"range":[0,1913]},"axis":null},"detail":{"field":"id"},"order":{"field":"ord"}}},

{"data":{"values":[{"text":"case 1: relative abundance captures true ecological dynamics in cross-kingdom mock communities","u":816,"v":36.6},{"text":"case 2: relative abundance captures false ecological dynamics in cross-kingdom mock communities","u":820,"v":1015}]},
"mark":{"type":"text","fontSize":25.5,"fontWeight":"bold","color":"#111111","align":"center","baseline":"middle"},
"encoding":{"text":{"field":"text"},"x":{"field":"u","type":"quantitative","scale":{"domain":[0,1594],"range":[0,1594]},"axis":null},"y":{"field":"v","type":"quantitative","scale":{"domain":[0,1913],"range":[0,1913]},"axis":null}}},
{"data":{"values":[{"text":"a","u":13,"v":16},{"text":"b","u":13,"v":981}]},
"mark":{"type":"text","fontSize":27,"fontWeight":"bold","color":"#111111","align":"center","baseline":"middle"},
"encoding":{"text":{"field":"text"},"x":{"field":"u","type":"quantitative","scale":{"domain":[0,1594],"range":[0,1594]},"axis":null},"y":{"field":"v","type":"quantitative","scale":{"domain":[0,1913],"range":[0,1913]},"axis":null}}},
{"data":{"values":[
{"text":"focal-variable, others-fixed","u":95,"v":84,"tone":"plain"},{"text":"focal-fixed, others-variable","u":95,"v":1056,"tone":"plain"},
{"text":"total bacteria","u":406,"v":445,"tone":"plain"},{"text":"focal bacterium","u":406,"v":498,"tone":"plain"},{"text":"total fungi","u":410,"v":873.5,"tone":"plain"},{"text":"focal fungus","u":410,"v":921,"tone":"plain"},
{"text":"total bacteria","u":412,"v":1420.6,"tone":"plain"},{"text":"focal bacterium","u":412,"v":1469,"tone":"plain"},{"text":"total fungi","u":412,"v":1847,"tone":"plain"},{"text":"focal fungus","u":412,"v":1895,"tone":"plain"},
{"text":"relative abundance: decreasing","u":672,"v":446,"tone":"pink"},{"text":"absolute abundance: decreasing","u":672,"v":496,"tone":"pink"},{"text":"relative abundance: increasing","u":668,"v":873.5,"tone":"blue"},{"text":"absolute abundance: increasing","u":668,"v":921,"tone":"blue"},
{"text":"relative abundance: decreasing","u":663,"v":1420.6,"tone":"pink"},{"text":"absolute abundance: constant","u":663,"v":1469,"tone":"pink"},{"text":"relative abundance: increasing","u":663,"v":1847,"tone":"blue"},{"text":"absolute abundance: constant","u":663,"v":1891.5,"tone":"blue"},
{"text":"relative abundance:","u":1177.5,"v":462,"tone":"plain"},{"text":"absolute abundance:","u":1177.5,"v":534,"tone":"plain"},{"text":"relative abundance:","u":1163,"v":1413.5,"tone":"plain"},{"text":"absolute abundance:","u":1163,"v":1489,"tone":"plain"}]},
"mark":{"type":"text","fontSize":22.6,"align":"left","baseline":"middle"},
"encoding":{"text":{"field":"text"},"x":{"field":"u","type":"quantitative","scale":{"domain":[0,1594],"range":[0,1594]},"axis":null},"y":{"field":"v","type":"quantitative","scale":{"domain":[0,1913],"range":[0,1913]},"axis":null},
"color":{"field":"tone","type":"nominal","legend":null,"scale":{"domain":["plain","pink","blue"],"range":["#231f20","#ec0a8c","#25aae3"]}}}},
{"data":{"values":[{"text":"negative","u":1501,"v":438.5},{"text":"negative","u":1501,"v":510.5},{"text":"negative","u":1486.5,"v":1389.5},{"text":"no prediction","u":1489,"v":1464.5}]},
"mark":{"type":"text","fontSize":22.6,"align":"center","baseline":"middle","color":"#231f20"},
"encoding":{"text":{"field":"text"},"x":{"field":"u","type":"quantitative","scale":{"domain":[0,1594],"range":[0,1594]},"axis":null},"y":{"field":"v","type":"quantitative","scale":{"domain":[0,1913],"range":[0,1913]},"axis":null}}},
{"data":{"values":[{"text":"focal","u":749.3,"v":122.7},{"text":"focal","u":766.7,"v":556.7},{"text":"focal","u":746,"v":1098.3},{"text":"focal","u":762,"v":1527}]},
"mark":{"type":"text","fontSize":21.5,"align":"left","baseline":"middle","color":"#58595b"},
"encoding":{"text":{"field":"text"},"x":{"field":"u","type":"quantitative","scale":{"domain":[0,1594],"range":[0,1594]},"axis":null},"y":{"field":"v","type":"quantitative","scale":{"domain":[0,1913],"range":[0,1913]},"axis":null}}},
{"data":{"values":[{"text":"bacterium","u":800.7,"v":122.7,"tone":"pink"},{"text":"fungus","u":817.7,"v":556.7,"tone":"blue"},{"text":"bacterium","u":797.3,"v":1098.3,"tone":"pink"},{"text":"fungus","u":812,"v":1527,"tone":"blue"}]},
"mark":{"type":"text","fontSize":21.5,"fontWeight":"bold","align":"left","baseline":"middle"},
"encoding":{"text":{"field":"text"},"x":{"field":"u","type":"quantitative","scale":{"domain":[0,1594],"range":[0,1594]},"axis":null},"y":{"field":"v","type":"quantitative","scale":{"domain":[0,1913],"range":[0,1913]},"axis":null},
"color":{"field":"tone","type":"nominal","legend":null,"scale":{"domain":["pink","blue"],"range":["#ec0a8c","#25aae3"]}}}},
{"data":{"values":[{"text":"relative","u":728.3,"v":156},{"text":"absolute","u":836.7,"v":156},{"text":"relative","u":726,"v":588.7},{"text":"absolute","u":834,"v":588.7},{"text":"relative","u":725,"v":1131.7},{"text":"absolute","u":833.3,"v":1131.7},{"text":"relative","u":728,"v":1558},{"text":"absolute","u":836.7,"v":1558}]},
"mark":{"type":"text","fontSize":24.5,"align":"left","baseline":"middle","color":"#58595b"},
"encoding":{"text":{"field":"text"},"x":{"field":"u","type":"quantitative","scale":{"domain":[0,1594],"range":[0,1594]},"axis":null},"y":{"field":"v","type":"quantitative","scale":{"domain":[0,1913],"range":[0,1913]},"axis":null}}}
]
}
